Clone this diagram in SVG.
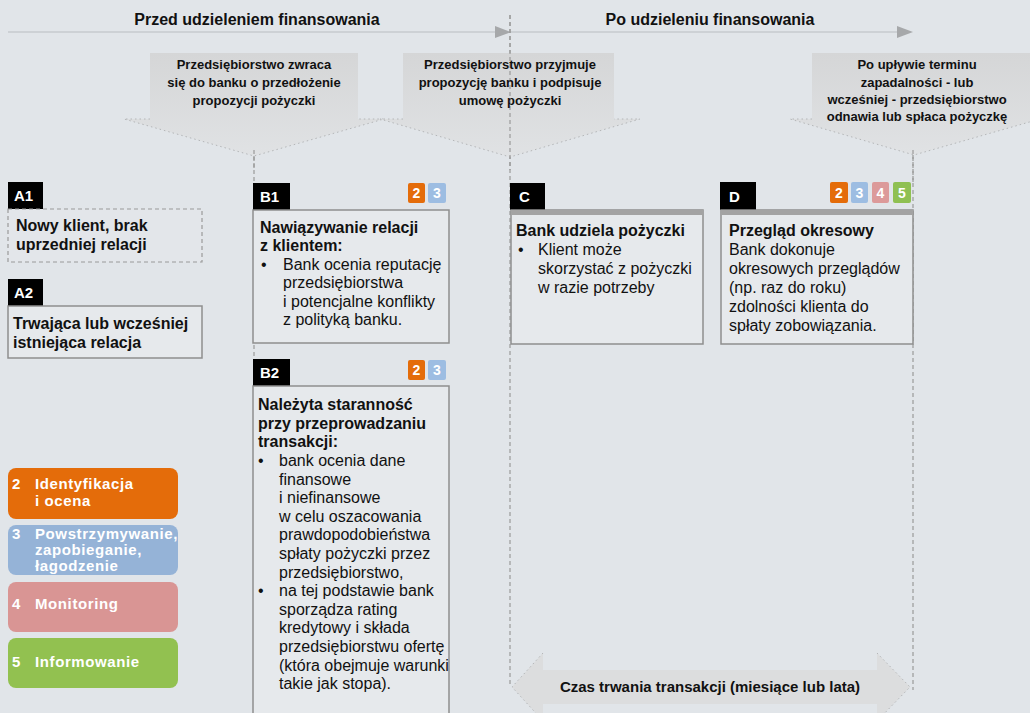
<svg xmlns="http://www.w3.org/2000/svg" width="1030" height="713" viewBox="0 0 1030 713">
<style>
text{font-family:"Liberation Sans",Arial,sans-serif;fill:#111}
.hd{font-size:16px;font-weight:bold;text-anchor:middle}
.ch{font-size:13px;font-weight:bold;text-anchor:middle}
.b{font-size:16px;font-weight:bold}
.r{font-size:16px}
.tab{fill:#000}
.tabt{font-size:15px;font-weight:bold;fill:#fff}
.box{fill:#E6E9EC;stroke:#8E8E8E;stroke-width:1.5}
.dash{stroke:#9A9A9A;stroke-width:1.2;stroke-dasharray:4 3;fill:none}
.dot{stroke:#B4B6B8;stroke-width:1;stroke-dasharray:1.5 3;fill:none}
.bdg{font-size:14px;font-weight:bold;fill:#fff;text-anchor:middle}
.lg{font-size:15px;font-weight:bold;fill:#fff;letter-spacing:0.6px}
.topbar{fill:#A3A3A3}
</style>
<defs>
<linearGradient id="cg" x1="0" y1="0" x2="0" y2="1">
<stop offset="0" stop-color="#D5D6D7"/>
<stop offset="1" stop-color="#E0E2E4"/>
</linearGradient>
</defs>
<rect width="1030" height="713" fill="#E1E5E9"/>

<g id="timeline">
<line x1="8" y1="32" x2="496" y2="32" stroke="#C6CACE" stroke-width="1.5"/>
<polygon points="495,26 511,32 495,38" fill="#A6A8AA"/>
<line x1="510" y1="32" x2="898" y2="32" stroke="#C6CACE" stroke-width="1.5"/>
<polygon points="897,26 913,32 897,38" fill="#A6A8AA"/>
<text class="hd" x="257" y="25">Przed udzieleniem finansowania</text>
<text class="hd" x="710" y="25">Po udzieleniu finansowania</text>
</g>

<g id="connectors">
<line class="dash" x1="254" y1="156" x2="254" y2="713"/>
<line class="dash" x1="510" y1="15" x2="510" y2="687"/>
<line class="dash" x1="913" y1="155" x2="913" y2="690"/>
</g>

<g id="chevron1">
<polygon points="150,53 358,53 358,119 384,119 254,156 124,119 150,119" fill="url(#cg)"/>
<polyline class="dot" points="150,119 124,119 254,156 384,119 358,119"/>
<line class="dash" x1="254" y1="150" x2="254" y2="170"/>
<text class="ch" x="254" y="69">Przedsiębiorstwo zwraca</text>
<text class="ch" x="254" y="87">się do banku o przedłożenie</text>
<text class="ch" x="254" y="105">propozycji pożyczki</text>
</g>

<g id="chevron2">
<polygon points="403,53 614,53 614,119 640,119 510,157 380,119 403,119" fill="url(#cg)"/>
<polyline class="dot" points="403,119 380,119 510,157 640,119 614,119"/>
<line class="dash" x1="510" y1="15" x2="510" y2="170"/>
<text class="ch" x="510" y="69">Przedsiębiorstwo przyjmuje</text>
<text class="ch" x="510" y="87">propozycję banku i podpisuje</text>
<text class="ch" x="510" y="105">umowę pożyczki</text>
</g>

<g id="chevron3">
<polygon points="812,53 1030,53 1030,119 1040,119 914,155 790,119 812,119" fill="url(#cg)"/>
<polyline class="dot" points="812,119 790,119 914,155 1040,119"/>
<line class="dash" x1="913" y1="150" x2="913" y2="182"/>
<text class="ch" x="917" y="69">Po upływie terminu</text>
<text class="ch" x="917" y="87">zapadalności - lub</text>
<text class="ch" x="917" y="104">wcześniej - przedsiębiorstwo</text>
<text class="ch" x="917" y="121">odnawia lub spłaca pożyczkę</text>
</g>

<g id="A1">
<rect class="tab" x="8" y="182" width="35" height="27"/>
<text class="tabt" x="14" y="201">A1</text>
<rect x="8" y="209" width="194" height="53" fill="#E3E6EA" stroke="#9A9A9A" stroke-width="1.2" stroke-dasharray="4 3"/>
<text class="b" x="16" y="231">Nowy klient, brak</text>
<text class="b" x="16" y="250">uprzedniej relacji</text>
</g>

<g id="A2">
<rect class="tab" x="8" y="279" width="35" height="27"/>
<text class="tabt" x="14" y="298">A2</text>
<rect class="box" x="8" y="306" width="194" height="52"/>
<text class="b" x="13" y="329">Trwająca lub wcześniej</text>
<text class="b" x="13" y="348">istniejąca relacja</text>
</g>

<g id="B1">
<rect class="tab" x="253" y="183" width="37" height="27"/>
<text class="tabt" x="260" y="202">B1</text>
<rect x="408" y="183" width="17" height="20" rx="2" fill="#E46C0A"/>
<text class="bdg" x="416.5" y="198">2</text>
<rect x="428" y="183" width="18" height="20" rx="2" fill="#9DBDE2"/>
<text class="bdg" x="437" y="198">3</text>
<rect class="box" x="253" y="210" width="196" height="133"/>
<text class="b" x="260" y="233">Nawiązywanie relacji</text>
<text class="b" x="260" y="251">z klientem:</text>
<text class="r" x="261" y="270">•</text>
<text class="r" x="283" y="270">Bank ocenia reputację</text>
<text class="r" x="283" y="288">przedsiębiorstwa</text>
<text class="r" x="283" y="307">i potencjalne konflikty</text>
<text class="r" x="283" y="325">z polityką banku.</text>
</g>

<g id="B2">
<rect class="tab" x="253" y="359" width="37" height="27"/>
<text class="tabt" x="260" y="378">B2</text>
<rect x="408" y="360" width="17" height="20" rx="2" fill="#E46C0A"/>
<text class="bdg" x="416.5" y="375">2</text>
<rect x="428" y="360" width="18" height="20" rx="2" fill="#9DBDE2"/>
<text class="bdg" x="437" y="375">3</text>
<rect class="box" x="253" y="386" width="196" height="340"/>
<text class="b" x="258" y="410">Należyta staranność</text>
<text class="b" x="258" y="429">przy przeprowadzaniu</text>
<text class="b" x="258" y="447">transakcji:</text>
<text class="r" x="258" y="466">•</text>
<text class="r" x="279" y="466">bank ocenia dane</text>
<text class="r" x="279" y="485">finansowe</text>
<text class="r" x="279" y="503">i niefinansowe</text>
<text class="r" x="279" y="522">w celu oszacowania</text>
<text class="r" x="279" y="540">prawdopodobieństwa</text>
<text class="r" x="279" y="559">spłaty pożyczki przez</text>
<text class="r" x="279" y="578">przedsiębiorstwo,</text>
<text class="r" x="258" y="596">•</text>
<text class="r" x="279" y="596">na tej podstawie bank</text>
<text class="r" x="279" y="615">sporządza rating</text>
<text class="r" x="279" y="633">kredytowy i składa</text>
<text class="r" x="279" y="652">przedsiębiorstwu ofertę</text>
<text class="r" x="279" y="671">(która obejmuje warunki</text>
<text class="r" x="279" y="689">takie jak stopa).</text>
</g>

<g id="C">
<rect class="tab" x="510" y="183" width="35" height="27"/>
<text class="tabt" x="519" y="202">C</text>
<rect class="box" x="511" y="210" width="192" height="134"/>
<rect class="topbar" x="511" y="210" width="192" height="5"/>
<text class="b" x="516" y="236">Bank udziela pożyczki</text>
<text class="r" x="518" y="255">•</text>
<text class="r" x="538" y="255">Klient może</text>
<text class="r" x="538" y="274">skorzystać z pożyczki</text>
<text class="r" x="538" y="293">w razie potrzeby</text>
</g>

<g id="D">
<rect class="tab" x="720" y="182" width="36" height="28"/>
<text class="tabt" x="729" y="202">D</text>
<rect x="830" y="182" width="18" height="21" rx="2" fill="#E46C0A"/>
<text class="bdg" x="839" y="198">2</text>
<rect x="851" y="182" width="17" height="21" rx="2" fill="#9DBDE2"/>
<text class="bdg" x="859.5" y="198">3</text>
<rect x="872" y="182" width="17" height="21" rx="2" fill="#DC9A9A"/>
<text class="bdg" x="880.5" y="198">4</text>
<rect x="893" y="182" width="18" height="21" rx="2" fill="#8FC052"/>
<text class="bdg" x="902" y="198">5</text>
<rect class="box" x="721" y="210" width="192" height="134"/>
<rect class="topbar" x="721" y="210" width="192" height="5"/>
<text class="b" x="729" y="236">Przegląd okresowy</text>
<text class="r" x="729" y="255">Bank dokonuje</text>
<text class="r" x="729" y="274">okresowych przeglądów</text>
<text class="r" x="729" y="293">(np. raz do roku)</text>
<text class="r" x="729" y="312">zdolności klienta do</text>
<text class="r" x="729" y="331">spłaty zobowiązania.</text>
</g>

<g id="legend">
<rect x="8" y="468" width="170" height="51" rx="8" fill="#E46C0A"/>
<text class="lg" x="12" y="489">2</text>
<text class="lg" x="35" y="489">Identyfikacja</text>
<text class="lg" x="35" y="506">i ocena</text>
<rect x="8" y="525" width="170" height="50" rx="8" fill="#95B3D7"/>
<text class="lg" x="12" y="539">3</text>
<text class="lg" x="35" y="539">Powstrzymywanie,</text>
<text class="lg" x="35" y="555">zapobieganie,</text>
<text class="lg" x="35" y="571">łagodzenie</text>
<rect x="8" y="582" width="170" height="50" rx="8" fill="#D99594"/>
<text class="lg" x="12" y="609">4</text>
<text class="lg" x="35" y="609">Monitoring</text>
<rect x="8" y="638" width="170" height="50" rx="8" fill="#92C150"/>
<text class="lg" x="12" y="667">5</text>
<text class="lg" x="35" y="667">Informowanie</text>
</g>

<g id="duration">
<polygon points="512,687 543,653 543,670 877,670 877,653 910,687 877,721 877,704 543,704 543,721" fill="#DCDDDE"/>
<polyline class="dot" points="543,653 512,687 543,721"/>
<polyline class="dot" points="877,653 910,687 877,721"/>
<text x="710" y="692" style="font-size:15px;font-weight:bold;text-anchor:middle">Czas trwania transakcji (miesiące lub lata)</text>
</g>
</svg>
